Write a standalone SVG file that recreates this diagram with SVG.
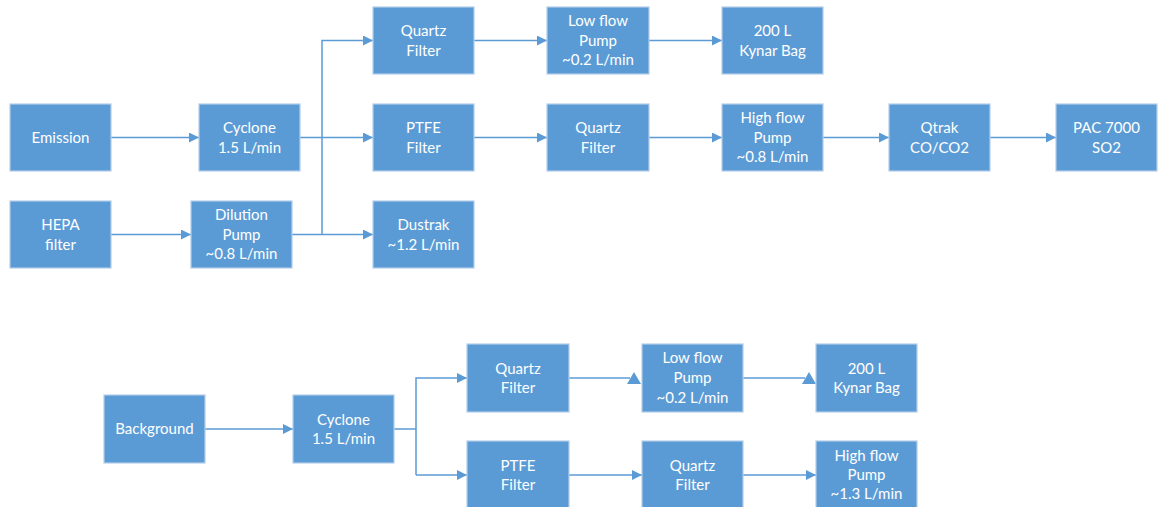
<svg xmlns="http://www.w3.org/2000/svg" width="1158" height="507" viewBox="0 0 1158 507">
<defs>
<style>
.box{fill:#5b9bd5;stroke:#b4cde9;stroke-width:1.2}
.t{fill:#ffffff;font-family:Lato,"Liberation Sans",sans-serif;font-size:15px;text-anchor:middle}
.c{fill:none;stroke:#5b9bd5;stroke-width:1.5}
.ah{fill:#5b9bd5}
</style>
<marker id="arr" viewBox="0 0 10 10" refX="10" refY="5" markerWidth="10" markerHeight="10" markerUnits="userSpaceOnUse" orient="auto">
<path d="M0,0 L10,5 L0,10 Z" fill="#5b9bd5"/>
</marker>
</defs>
<rect width="1158" height="507" fill="#ffffff"/>
<g id="connectors">
<path class="c" d="M111,137.5 H199" marker-end="url(#arr)"/>
<path class="c" d="M300,137.5 H373" marker-end="url(#arr)"/>
<path class="c" d="M111,234.5 H191" marker-end="url(#arr)"/>
<path class="c" d="M292,234.5 H373" marker-end="url(#arr)"/>
<path class="c" d="M322,234.5 V40.5 H373" marker-end="url(#arr)"/>
<path class="c" d="M474,40.5 H547" marker-end="url(#arr)"/>
<path class="c" d="M649,40.5 H722" marker-end="url(#arr)"/>
<path class="c" d="M474,137.5 H547" marker-end="url(#arr)"/>
<path class="c" d="M649,137.5 H722" marker-end="url(#arr)"/>
<path class="c" d="M823,137.5 H889" marker-end="url(#arr)"/>
<path class="c" d="M990,137.5 H1056" marker-end="url(#arr)"/>
<path class="c" d="M205,429 H293" marker-end="url(#arr)"/>
<path class="c" d="M394,429 H416"/>
<path class="c" d="M416,475 V378 H467" marker-end="url(#arr)"/>
<path class="c" d="M416,475 H467" marker-end="url(#arr)"/>
<path class="c" d="M569,378 H630"/>
<polygon class="ah" points="634,372 641,384 627,384"/>
<path class="c" d="M743,378 H805"/>
<polygon class="ah" points="809,372 816,384 802,384"/>
<path class="c" d="M569,475 H642" marker-end="url(#arr)"/>
<path class="c" d="M743,475 H816" marker-end="url(#arr)"/>
</g>
<g id="emission"><rect class="box" x="10" y="104" width="101" height="67"/><text class="t" x="60.5" y="142.5">Emission</text></g>
<g id="cyclone"><rect class="box" x="199" y="104" width="101" height="67"/><text class="t" x="249.5" y="133">Cyclone</text><text class="t" x="249.5" y="152.5">1.5 L/min</text></g>
<g id="hepa"><rect class="box" x="10" y="201" width="101" height="67"/><text class="t" x="60.5" y="230">HEPA</text><text class="t" x="60.5" y="249.5">filter</text></g>
<g id="dilution"><rect class="box" x="191" y="201" width="101" height="67"/><text class="t" x="241.5" y="220">Dilution</text><text class="t" x="241.5" y="239.5">Pump</text><text class="t" x="241.5" y="259">~0.8 L/min</text></g>
<g id="quartz1"><rect class="box" x="373" y="7" width="101" height="67"/><text class="t" x="423.5" y="36">Quartz</text><text class="t" x="423.5" y="55.5">Filter</text></g>
<g id="ptfe1"><rect class="box" x="373" y="104" width="101" height="67"/><text class="t" x="423.5" y="133">PTFE</text><text class="t" x="423.5" y="152.5">Filter</text></g>
<g id="dustrak"><rect class="box" x="373" y="201" width="101" height="67"/><text class="t" x="423.5" y="230">Dustrak</text><text class="t" x="423.5" y="249.5">~1.2 L/min</text></g>
<g id="lowpump1"><rect class="box" x="547" y="7" width="102" height="67"/><text class="t" x="598" y="26">Low flow</text><text class="t" x="598" y="45.5">Pump</text><text class="t" x="598" y="65">~0.2 L/min</text></g>
<g id="bag1"><rect class="box" x="722" y="7" width="101" height="67"/><text class="t" x="772.5" y="36">200 L</text><text class="t" x="772.5" y="55.5">Kynar Bag</text></g>
<g id="quartz2"><rect class="box" x="547" y="104" width="102" height="67"/><text class="t" x="598" y="133">Quartz</text><text class="t" x="598" y="152.5">Filter</text></g>
<g id="highpump1"><rect class="box" x="722" y="104" width="101" height="67"/><text class="t" x="772.5" y="123">High flow</text><text class="t" x="772.5" y="142.5">Pump</text><text class="t" x="772.5" y="162">~0.8 L/min</text></g>
<g id="qtrak"><rect class="box" x="889" y="104" width="101" height="67"/><text class="t" x="939.5" y="133">Qtrak</text><text class="t" x="939.5" y="152.5">CO/CO2</text></g>
<g id="pac"><rect class="box" x="1056" y="104" width="101" height="67"/><text class="t" x="1106.5" y="133">PAC 7000</text><text class="t" x="1106.5" y="152.5">SO2</text></g>
<g id="background"><rect class="box" x="104" y="395" width="101" height="68"/><text class="t" x="154.5" y="434">Background</text></g>
<g id="cyclone2"><rect class="box" x="293" y="395" width="101" height="68"/><text class="t" x="343.5" y="424.5">Cyclone</text><text class="t" x="343.5" y="444">1.5 L/min</text></g>
<g id="quartz3"><rect class="box" x="467" y="344" width="102" height="68"/><text class="t" x="518" y="373.5">Quartz</text><text class="t" x="518" y="393">Filter</text></g>
<g id="lowpump2"><rect class="box" x="642" y="344" width="101" height="68"/><text class="t" x="692.5" y="363">Low flow</text><text class="t" x="692.5" y="383">Pump</text><text class="t" x="692.5" y="402.5">~0.2 L/min</text></g>
<g id="bag2"><rect class="box" x="816" y="344" width="101" height="68"/><text class="t" x="866.5" y="373.5">200 L</text><text class="t" x="866.5" y="393">Kynar Bag</text></g>
<g id="ptfe2"><rect class="box" x="467" y="441" width="102" height="68"/><text class="t" x="518" y="470.5">PTFE</text><text class="t" x="518" y="490">Filter</text></g>
<g id="quartz4"><rect class="box" x="642" y="441" width="101" height="68"/><text class="t" x="692.5" y="470.5">Quartz</text><text class="t" x="692.5" y="490">Filter</text></g>
<g id="highpump2"><rect class="box" x="816" y="441" width="101" height="68"/><text class="t" x="866.5" y="461">High flow</text><text class="t" x="866.5" y="480">Pump</text><text class="t" x="866.5" y="499">~1.3 L/min</text></g>
</svg>
